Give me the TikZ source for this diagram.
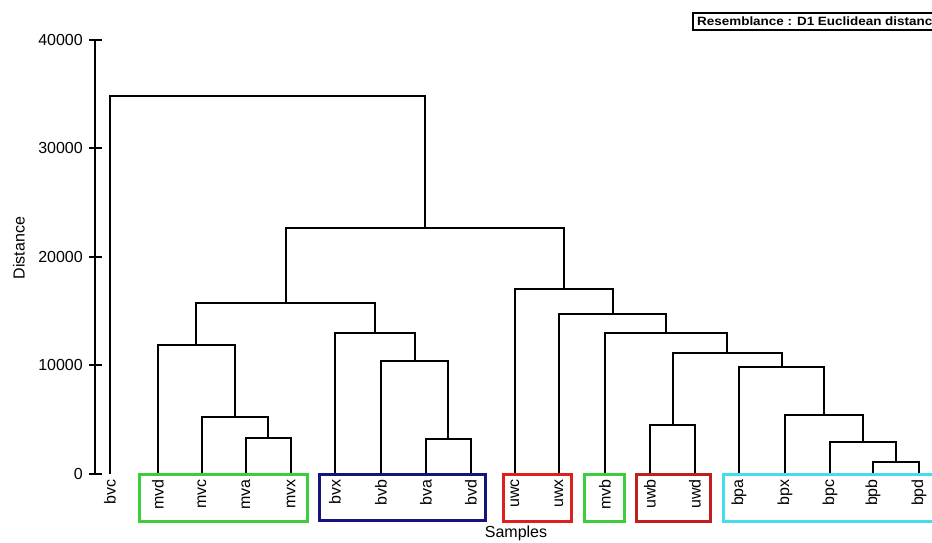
\documentclass[tikz,border=0pt]{standalone}
\usepackage{fontspec}
\setmainfont{Liberation Sans}
\definecolor{grpgreen}{RGB}{60,205,60}
\definecolor{grpblue}{RGB}{20,20,125}
\definecolor{grpred}{RGB}{225,30,30}
\definecolor{grpdarkred}{RGB}{195,30,30}
\definecolor{grpcyan}{RGB}{70,220,235}
\begin{document}
\begin{tikzpicture}[x=1pt,y=-1pt,
  link/.style={draw=black,line width=2pt,line join=miter},
  axisline/.style={draw=black,line width=2pt},
  leaflabel/.style={rotate=90,anchor=east,inner sep=0pt,font=\fontsize{16}{18}\selectfont},
  ticklabel/.style={anchor=east,inner sep=0pt,font=\fontsize{16}{18}\selectfont},
  axtitle/.style={inner sep=0pt,font=\fontsize{16}{18}\selectfont},
  grpbox/.style={line width=3pt}]
\useasboundingbox[fill=white] (0,0) rectangle (932,542);

% axis
\coordinate (ax0) at (95,474);
\coordinate (ax4) at (95,40);
\draw[axisline] (ax0) -- (ax4);
\foreach \v/\yy in {0/474,10000/365,20000/257,30000/148,40000/40}{
  \coordinate (tk\v) at (95,\yy);
  \draw[axisline] ([xshift=-6pt]tk\v) -- ([xshift=7pt]tk\v);
  \node[ticklabel] (tl\v) at ([xshift=-12pt]tk\v) {\v};
}
\node[axtitle,rotate=90] (ytitle) at (19,248) {Distance};
\node[axtitle] (xtitle) at (516,533) {Samples};

% leaves
\foreach \n/\xx in {bvc/110,mvd/158,mvc/202,mva/246,mvx/291,bvx/335,bvb/381,bva/426,bvd/471,uwc/515,uwx/559,mvb/605,uwb/650,uwd/695,bpa/739,bpx/785,bpc/830,bpb/873,bpd/919}{
  \coordinate (\n) at (\xx,474);
  \node[leaflabel] (l\n) at (\xx,479) {\n};
}

% merges
\coordinate (mA) at (268,438);
\coordinate (mB) at (235,417);
\coordinate (mC) at (196,345);
\coordinate (mD) at (448,439);
\coordinate (mE) at (415,361);
\coordinate (mF) at (375,333);
\coordinate (mG) at (286,303);
\coordinate (mH) at (896,462);
\coordinate (mI) at (863,442);
\coordinate (mJ) at (824,415);
\coordinate (mK) at (782,367);
\coordinate (mL) at (673,425);
\coordinate (mM) at (727,353);
\coordinate (mN) at (666,333);
\coordinate (mO) at (613,314);
\coordinate (mP) at (564,289);
\coordinate (mQ) at (425,228);
\coordinate (mR) at (268,96);

\draw[link] (mva) |- (mA) -| (mvx);
\draw[link] (mvc) |- (mB) -| (mA);
\draw[link] (mvd) |- (mC) -| (mB);
\draw[link] (bva) |- (mD) -| (bvd);
\draw[link] (bvb) |- (mE) -| (mD);
\draw[link] (bvx) |- (mF) -| (mE);
\draw[link] (mC) |- (mG) -| (mF);
\draw[link] (bpb) |- (mH) -| (bpd);
\draw[link] (bpc) |- (mI) -| (mH);
\draw[link] (bpx) |- (mJ) -| (mI);
\draw[link] (bpa) |- (mK) -| (mJ);
\draw[link] (uwb) |- (mL) -| (uwd);
\draw[link] (mL) |- (mM) -| (mK);
\draw[link] (mvb) |- (mN) -| (mM);
\draw[link] (uwx) |- (mO) -| (mN);
\draw[link] (uwc) |- (mP) -| (mO);
\draw[link] (mG) |- (mQ) -| (mP);
\draw[link] (bvc) |- (mR) -| (mQ);

% group boxes
\draw[grpbox,draw=grpgreen] (139.5,474.5) rectangle (307.5,521);
\draw[grpbox,draw=grpblue] (319.5,474.5) rectangle (485.5,520);
\draw[grpbox,draw=grpred] (503.5,474.5) rectangle (571.5,521);
\draw[grpbox,draw=grpgreen] (584.5,474.5) rectangle (624.5,521);
\draw[grpbox,draw=grpdarkred] (636.5,474.5) rectangle (710.5,521);
\draw[grpbox,draw=grpcyan] (935,474.5) -- (723.5,474.5) -- (723.5,521) -- (935,521);

% legend
\draw[line width=1.5pt] (935,13) -- (693,13) -- (693,30) -- (935,30);
\node[anchor=west,inner sep=0pt,font=\fontsize{12}{14}\selectfont\bfseries,xscale=1.12] (legend) at (697,21.5) {Resemblance : D1 Euclidean distanc};
\end{tikzpicture}
\end{document}
